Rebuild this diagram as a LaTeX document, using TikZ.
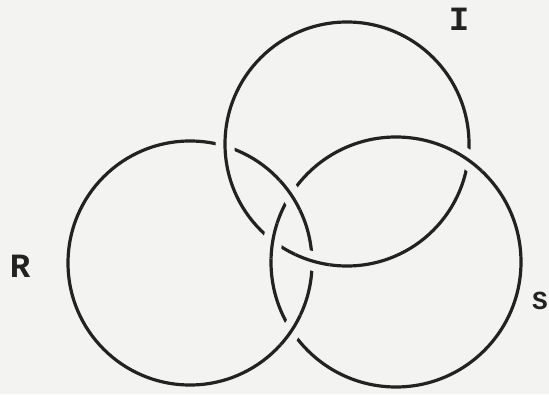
\documentclass[tikz,border=0pt]{standalone}
\usepackage{fontspec}
\setmonofont{Liberation Mono}
\usetikzlibrary{intersections}
\definecolor{ink}{HTML}{222222}
\definecolor{paper}{HTML}{F3F3F1}
\tikzset{
  ring/.style={draw=ink, line width=3.2pt},
  halo/.style={draw=paper, line width=19pt},
  letter/.style={font=\ttfamily\bfseries\fontsize{34}{34}\selectfont, text=ink},
}
\begin{document}
\begin{tikzpicture}[x=1pt,y=1pt]
  % paper
  \fill[paper] (0,0) rectangle (549,394);
  \useasboundingbox (0,0) rectangle (549,394);

  % the three rings
  \draw[ring, name path=R] (190,131) circle (122);
  \draw[ring, name path=I] (347,250) circle (122);
  \draw[ring, name path=S] (396,132) circle (125);

  \path[name intersections={of=I and R, by={ir1,ir2}}];
  \path[name intersections={of=R and S, by={rs1,rs2}}];
  \path[name intersections={of=S and I, by={si1,si2}}];

  % I passes over R
  \foreach \p in {ir1,ir2}{
    \begin{scope}
      \clip (\p) circle (18);
      \draw[halo] (347,250) circle (122);
      \draw[ring] (347,250) circle (122);
    \end{scope}
  }
  % R passes over S
  \foreach \p in {rs1,rs2}{
    \begin{scope}
      \clip (\p) circle (18);
      \draw[halo] (190,131) circle (122);
      \draw[ring] (190,131) circle (122);
    \end{scope}
  }
  % S passes over I
  \foreach \p in {si1,si2}{
    \begin{scope}
      \clip (\p) circle (18);
      \draw[halo] (396,132) circle (125);
      \draw[ring] (396,132) circle (125);
    \end{scope}
  }

  % labels
  \node[letter] (labI) at (459,375) {I};
  \node[letter] (labR) at (20,128) {R};
  \node[letter, font=\ttfamily\bfseries\fontsize{26}{26}\selectfont] (labS) at (540,93) {S};
\end{tikzpicture}
\end{document}
